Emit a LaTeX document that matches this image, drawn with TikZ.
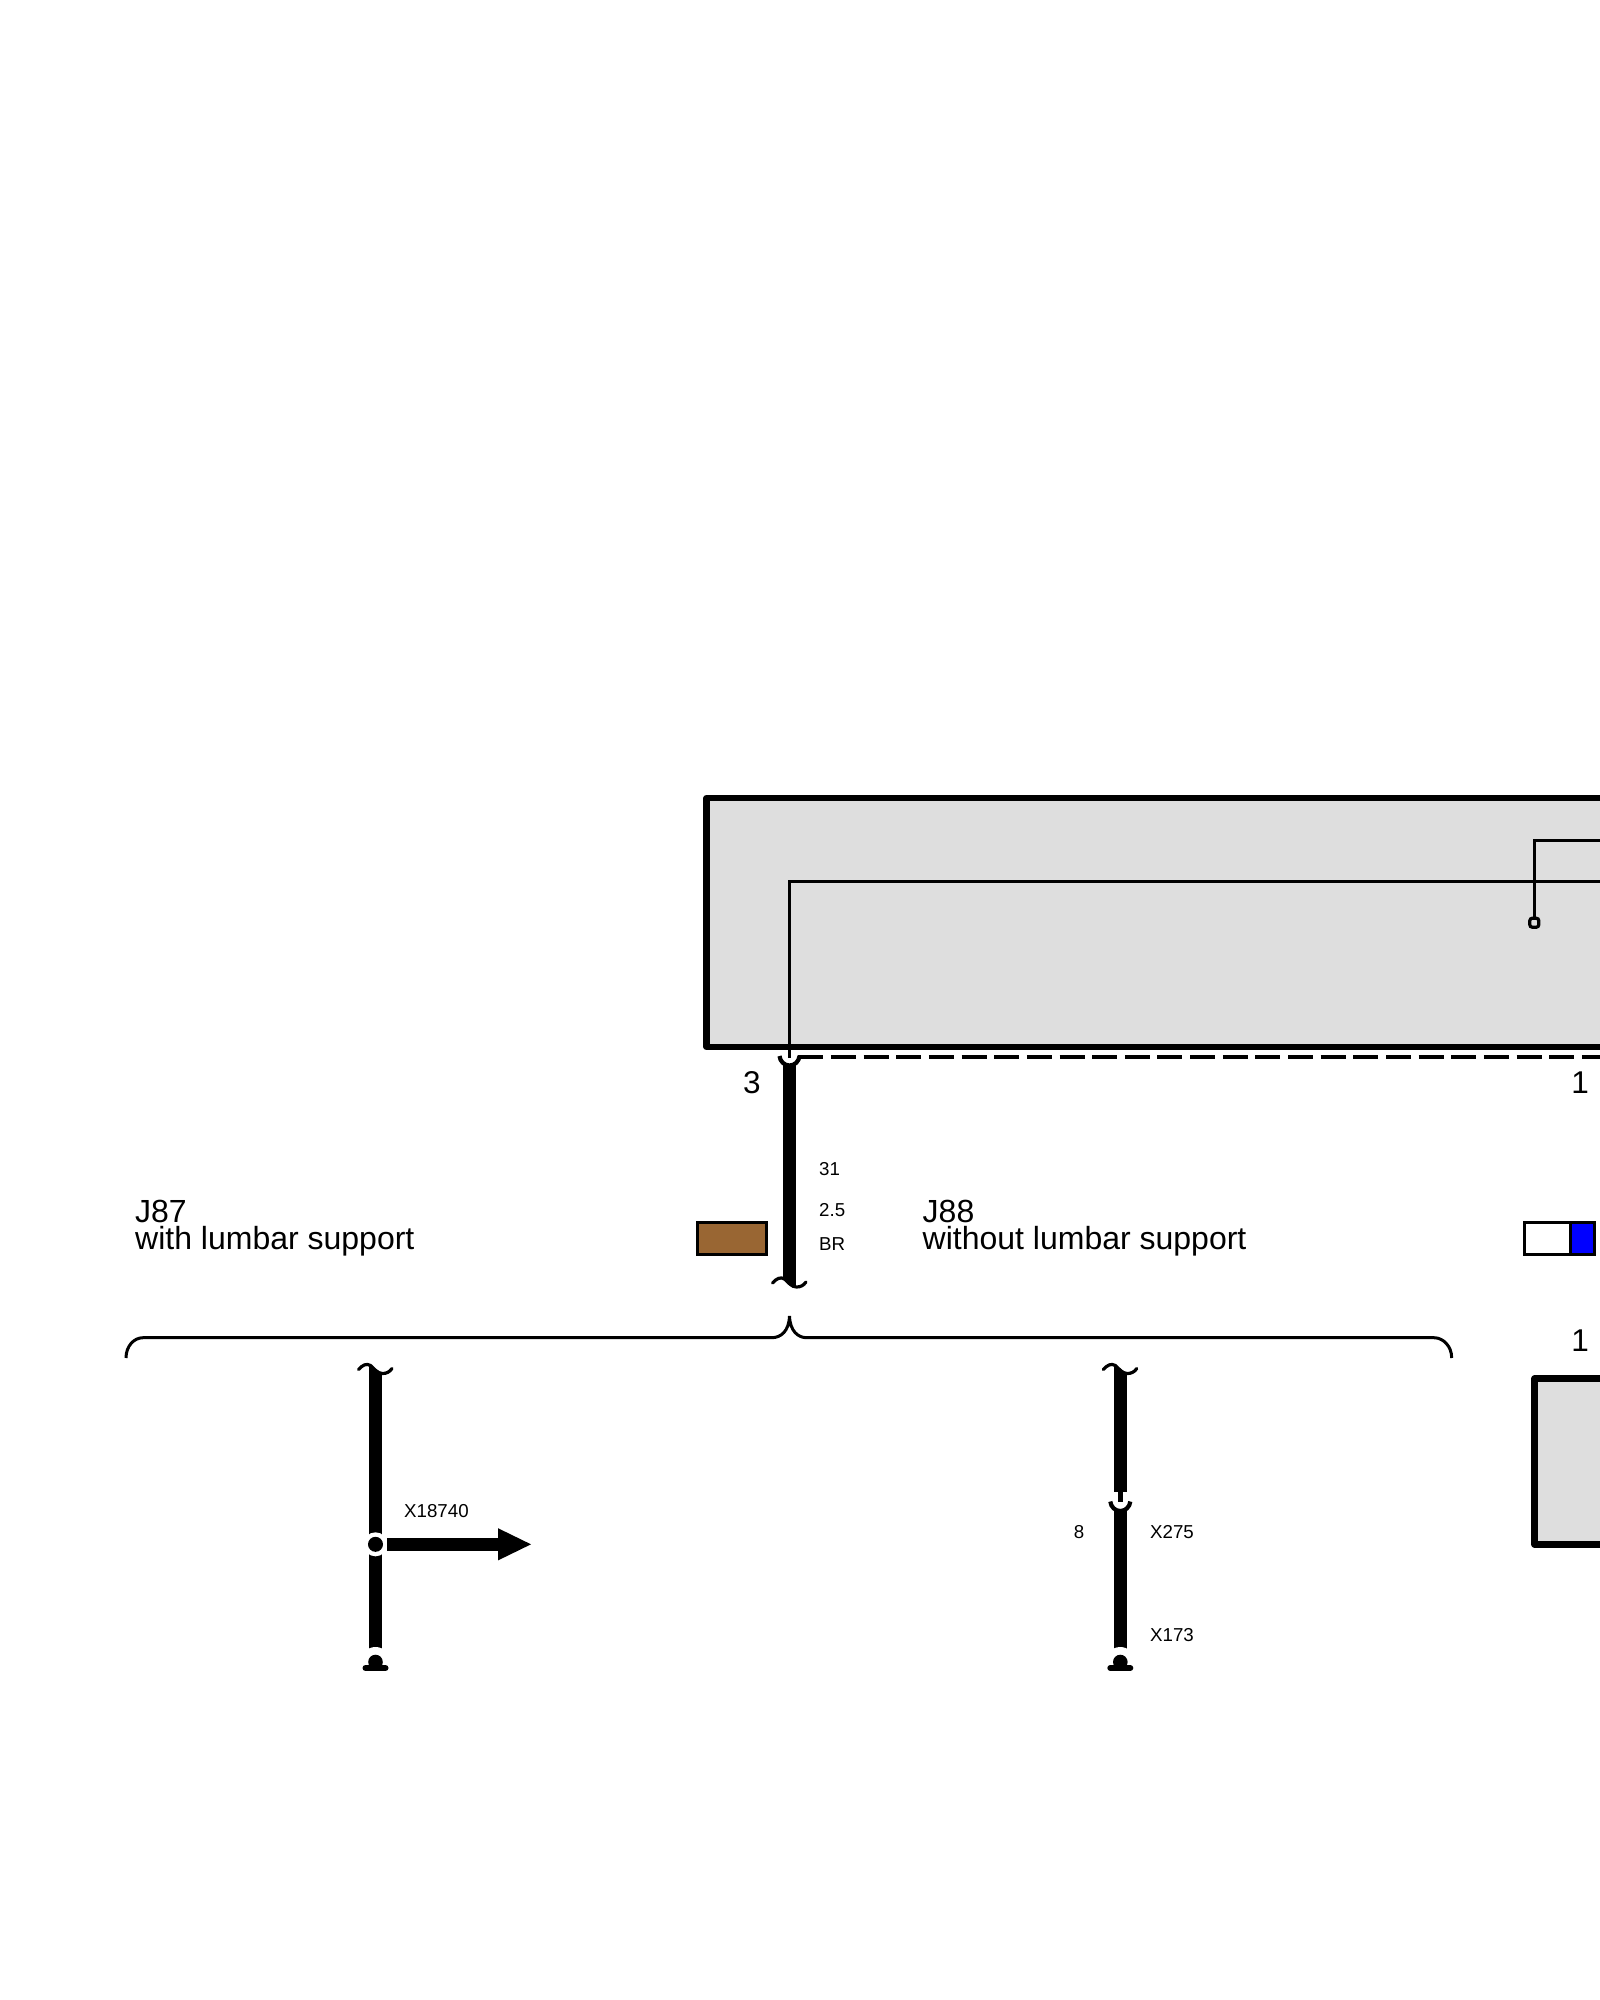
\documentclass[tikz,border=0pt]{standalone}
\usepackage{fontspec}
\setmainfont{Liberation Sans}
\tikzset{
  unitbox/.style={draw=black,line width=6.4pt,fill=boxgrey,line join=round},
  thinwire/.style={draw=black,line width=2.8pt,line join=miter},
  dashwire/.style={draw=black,line width=3.2pt,dash pattern=on 25pt off 7.65pt},
  heavywire/.style={draw=black,line width=12.6pt},
  swatch/.style={draw=black,line width=3pt},
  bigtext/.style={font=\fontsize{32}{26.6}\selectfont,inner sep=0pt},
  digittext/.style={font=\fontsize{31.5}{26.6}\selectfont,inner sep=0pt},
  smalltext/.style={font=\fontsize{18.7}{20}\selectfont,inner sep=0pt},
  bracewire/.style={draw=black,line width=3pt},
  tildemark/.pic={
    \draw[line width=3.2pt,line cap=round] (-17,5.5) .. controls (-13,1) and (-9,-1) .. (-5,1.5)
      .. controls (-1,5) and (2,9.5) .. (7,9.5) .. controls (11,9.5) and (14,8) .. (16.5,4.5);
  },
  cupmark/.pic={
    \draw[line width=4.2pt] (-10,0) .. controls (-9.5,5.5) and (-5,9.5) .. (0,9.5)
      .. controls (5,9.5) and (9.5,5.5) .. (10,0);
  },
  earthmark/.pic={
    \fill[white] (0,0) circle (15);
    \fill[black] (0,0) circle (7.3);
    \draw[black,line width=6pt,line cap=round] (-10,6) -- (10,6);
  },
}
\definecolor{boxgrey}{HTML}{DEDEDE}
\definecolor{wirebrown}{HTML}{996633}
\begin{document}
\begin{tikzpicture}[x=1pt,y=-1pt]
\useasboundingbox (0,0) rectangle (1600,2000);
\clip (0,0) rectangle (1600,2000);
\fill[white] (0,0) rectangle (1600,2000);

% upper unit
\path[unitbox] (706.5,798) rectangle (1620,1047);
\coordinate (pinthree) at (789.5,1056);
\coordinate (cornerA) at (789.5,881.5);
\coordinate (rightA) at (1620,881.5);
\coordinate (cornerB) at (1534.3,840.3);
\coordinate (rightB) at (1620,840.3);
\coordinate (studtop) at (1534.3,922.7);
\draw[thinwire] (pinthree) ++(0,2) -- (cornerA) -- (rightA);
\draw[thinwire] (studtop) -- (cornerB) -- (rightB);
\node[draw=black,line width=3.2pt,fill=boxgrey,rounded corners=2.5pt,minimum width=9pt,minimum height=9pt,inner sep=0pt] (stud) at (1534.3,922.7) {};

% dashed link
\coordinate (dashstart) at (798.3,1057);
\coordinate (dashend) at (1620,1057);
\draw[dashwire] (dashstart) -- (dashend);

% main wire
\coordinate (mainA) at (789.5,1065);
\coordinate (mainB) at (789.5,1270);
\draw[heavywire] (mainA) -- (mainB);
\fill[black] (783.2,1269) -- (795.8,1269) -- (795.8,1287) -- (783.2,1278) -- cycle;
\pic at (pinthree) {cupmark};
\pic at (789.5,1277.5) {tildemark};

\node[digittext,anchor=center] (pinlabelthree) at (752,1082.5) {3};
\node[digittext,anchor=center] (pinlabelone) at (1580,1082.5) {1};
\node[smalltext,anchor=base west] (wirenumber) at (819,1175.5) {31};
\node[smalltext,anchor=base west] (wiresize) at (819,1216) {2.5};
\node[smalltext,anchor=base west] (wirecolour) at (819,1250) {BR};

% variant labels
\node[bigtext,anchor=base west] (jeightseven) at (135,1222.2) {J87};
\node[bigtext,anchor=base west] (lumbaryes) at (135,1249.3) {with lumbar support};
\node[bigtext,anchor=base west] (jeighteight) at (922.5,1222.2) {J88};
\node[bigtext,anchor=base west] (lumbarno) at (922.5,1249.3) {without lumbar support};

% colour swatches
\node[swatch,fill=wirebrown,minimum width=68.7pt,minimum height=32pt,inner sep=0pt,outer sep=0pt,anchor=center] (brownswatch) at (731.85,1238.5) {};
\node[swatch,fill=white,minimum width=69.7pt,minimum height=32pt,inner sep=0pt,outer sep=0pt,anchor=center] (blueswatch) at (1559.65,1238.5) {};
\fill[blue] (1570,1224) rectangle (1593,1253);
\draw[black,line width=3pt] (1570,1222.5) -- (1570,1254.5);

% brace
\draw[bracewire] (126,1358) .. controls (126,1346) and (134,1337.7) .. (143,1337.7)
  -- (771.7,1337.7) .. controls (781,1337.7) and (789,1331) .. (789.5,1316)
  .. controls (790,1331) and (798,1337.7) .. (806.7,1337.7)
  -- (1434,1337.7) .. controls (1443,1337.7) and (1451.7,1346) .. (1451.7,1358);

% lower unit
\path[unitbox] (1534.5,1378.5) rectangle (1620,1544.5);
\node[digittext,anchor=center] (pinlabelonelow) at (1580,1340.5) {1};

% left branch
\coordinate (lefttop) at (375.5,1373);
\coordinate (leftjoin) at (375.5,1544.3);
\coordinate (leftearth) at (375.5,1662);
\fill[black] (369.2,1364.5) -- (381.8,1373) -- (381.8,1380) -- (369.2,1380) -- cycle;
\draw[heavywire] (lefttop) -- (375.5,1660);
\pic at (375.5,1364) {tildemark};
\fill[white] (leftjoin) circle (12);
\fill[black] (leftjoin) circle (7.5);
\pic at (leftearth) {earthmark};
\coordinate (arrowstart) at (387,1544.3);
\coordinate (arrowbase) at (498,1544.3);
\draw[line width=12.6pt] (arrowstart) -- (arrowbase);
\coordinate (arrowtip) at (531,1544.3);
\fill[black] (arrowtip) -- (498,1528.2) -- (498,1560.4) -- cycle;
\node[smalltext,anchor=base west] (spliceid) at (404,1517.5) {X18740};

% right branch
\coordinate (righttop) at (1120.3,1373);
\coordinate (rightstubtop) at (1120.3,1492);
\coordinate (rightcup) at (1120.3,1501.5);
\coordinate (rightlow) at (1120.3,1511);
\coordinate (rightearth) at (1120.3,1662);
\fill[black] (1114,1364.5) -- (1126.6,1373) -- (1126.6,1380) -- (1114,1380) -- cycle;
\draw[heavywire] (righttop) -- (rightstubtop);
\draw[black,line width=4.6pt] (rightstubtop) -- (rightcup);
\draw[heavywire] (rightlow) -- (1120.3,1660);
\pic at (1120.3,1364) {tildemark};
\pic at (rightcup) {cupmark};
\pic at (rightearth) {earthmark};
\node[smalltext,anchor=center] (pineight) at (1079,1532) {8};
\node[smalltext,anchor=base west] (xtwoseven) at (1150,1538.5) {X275};
\node[smalltext,anchor=base west] (xonesevenC) at (1150,1641.5) {X173};
\end{tikzpicture}
\end{document}
